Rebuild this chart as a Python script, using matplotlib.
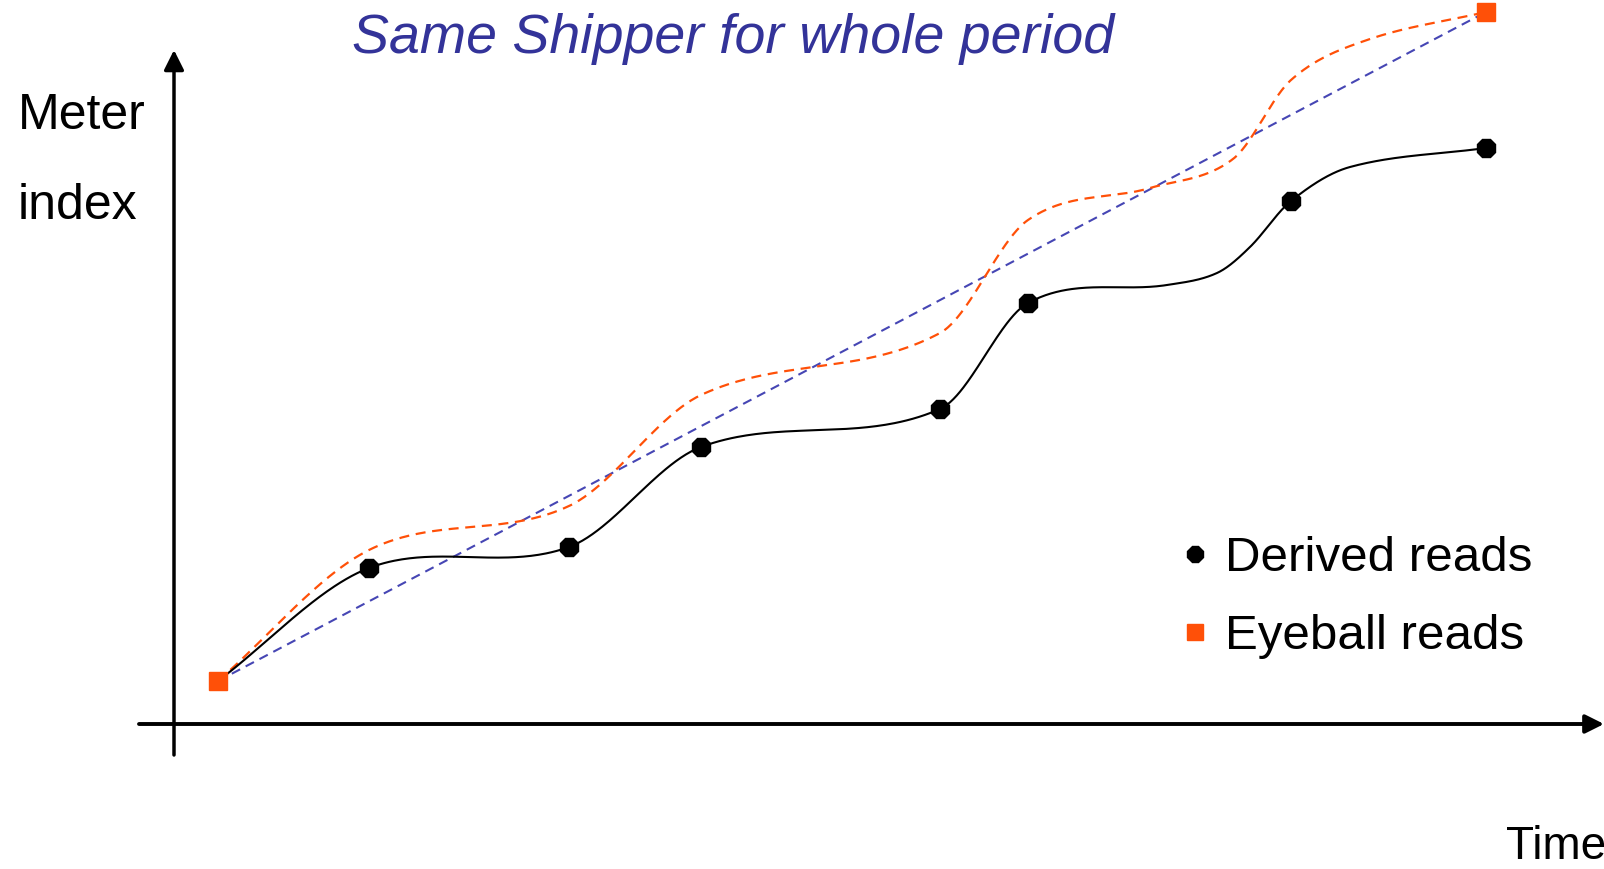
import numpy as np
import matplotlib
matplotlib.use("Agg")
import matplotlib.pyplot as plt
from matplotlib.lines import Line2D

plt.rcParams['font.family'] = ['Liberation Sans', 'DejaVu Sans']

# Meter reads over time (arbitrary units)
eyeball_time = [4.4, 131.2]
eyeball_reads = [4.3, 71.2]

derived_time = [19.5, 39.5, 52.7, 76.6, 85.4, 111.7, 131.2]
derived_reads = [15.6, 17.7, 27.7, 31.5, 42.1, 52.3, 57.6]

# Extra bend points on the hand-drawn consumption curve (unmarked)
derived_bend_time = [99.3, 104.3, 107.6, 117.6]
derived_bend_reads = [43.9, 45.1, 47.7, 55.7]

# Consumption profile scaled up to the closing eyeball read
prorated_time = [4.4, 19.5, 39.5, 52.7, 76.6, 85.4, 97.6, 105.9, 111.7, 119.3, 131.2]
prorated_reads = [4.3, 17.4, 21.8, 32.9, 39.1, 50.4, 53.6, 56.5, 64.4, 68.4, 71.2]

title = "Same Shipper for whole period"
y_label = ["Meter", "index"]
x_label = "Time"
legend_labels = ["Derived reads", "Eyeball reads"]

ORANGE = "#FF5008"
BLUE = "#4646B4"
TITLE_BLUE = "#333399"


def smooth(xs, ys, n=80):
    """Cardinal (finite-difference) cubic Hermite curve through every point."""
    order = np.argsort(xs)
    x = np.asarray(xs, float)[order]
    y = np.asarray(ys, float)[order]
    m = np.empty_like(y)
    m[1:-1] = (y[2:] - y[:-2]) / (x[2:] - x[:-2])
    m[0] = (y[1] - y[0]) / (x[1] - x[0])
    m[-1] = (y[-1] - y[-2]) / (x[-1] - x[-2])
    px, py = [], []
    for i in range(len(x) - 1):
        h = x[i + 1] - x[i]
        t = np.linspace(0, 1, n)
        if i > 0:
            t = t[1:]
        h00 = 2 * t**3 - 3 * t**2 + 1
        h10 = t**3 - 2 * t**2 + t
        h01 = -2 * t**3 + 3 * t**2
        h11 = t**3 - t**2
        px.append(x[i] + t * h)
        py.append(h00 * y[i] + h10 * h * m[i] + h01 * y[i + 1] + h11 * h * m[i + 1])
    return np.concatenate(px), np.concatenate(py)


fig = plt.figure(figsize=(16.04, 8.69), dpi=100)
ax = fig.add_axes([0, 0, 1, 1])
ax.set_xlim(-17.4, 143.0)
ax.set_ylim(-14.5, 72.4)
ax.axis("off")

# Axes with arrowheads
ax.annotate("", xy=(143.0, 0), xytext=(-3.5, 0),
            arrowprops=dict(arrowstyle="-|>", lw=2.8, color="black",
                            mutation_scale=28, shrinkA=0, shrinkB=0))
ax.annotate("", xy=(0, 67.4), xytext=(0, -3.1),
            arrowprops=dict(arrowstyle="-|>", lw=2.5, color="black",
                            mutation_scale=30, shrinkA=0, shrinkB=0))

# Straight-line proration between the two eyeball reads
ax.plot(eyeball_time, eyeball_reads, color=BLUE, lw=1.5,
        dashes=(4.5, 3), zorder=2)

# Smoothed prorated profile
sx, sy = smooth(prorated_time, prorated_reads)
ax.plot(sx, sy, color=ORANGE, lw=1.6, dashes=(4.5, 3), zorder=3)

# Smoothed derived profile, starting at the opening eyeball read
dx, dy = smooth([eyeball_time[0]] + derived_time + derived_bend_time,
                [eyeball_reads[0]] + derived_reads + derived_bend_reads)
ax.plot(dx, dy, color="black", lw=1.5, zorder=4)

ax.plot(derived_time, derived_reads, linestyle="none", marker="8",
        markersize=14, color="black", zorder=5, clip_on=False)
ax.plot(eyeball_time, eyeball_reads, linestyle="none", marker="s",
        markersize=13, color=ORANGE, zorder=6, clip_on=False)

# Labels
fig.text(733 / 1604, 1 - 39 / 869, title, ha="center", va="center",
         fontsize=40, style="italic", color=TITLE_BLUE)
fig.text(18 / 1604, 1 - 116 / 869, y_label[0], ha="left", va="center",
         fontsize=36, color="black")
fig.text(18 / 1604, 1 - 206 / 869, y_label[1], ha="left", va="center",
         fontsize=36, color="black")
fig.text(1506 / 1604, 1 - 847 / 869, x_label, ha="left", va="center",
         fontsize=33, color="black")

handles = [
    Line2D([], [], linestyle="none", marker="8", markersize=13, color="black"),
    Line2D([], [], linestyle="none", marker="s", markersize=12, color=ORANGE),
]
fig.legend(handles, legend_labels, loc="upper left",
           bbox_to_anchor=(1180 / 1604, 1 - 536 / 869), frameon=False,
           fontsize=35.5, handlelength=0.6, handletextpad=0.31,
           labelspacing=0.67, borderpad=0, borderaxespad=0)

fig.savefig("out.png", dpi=100)
